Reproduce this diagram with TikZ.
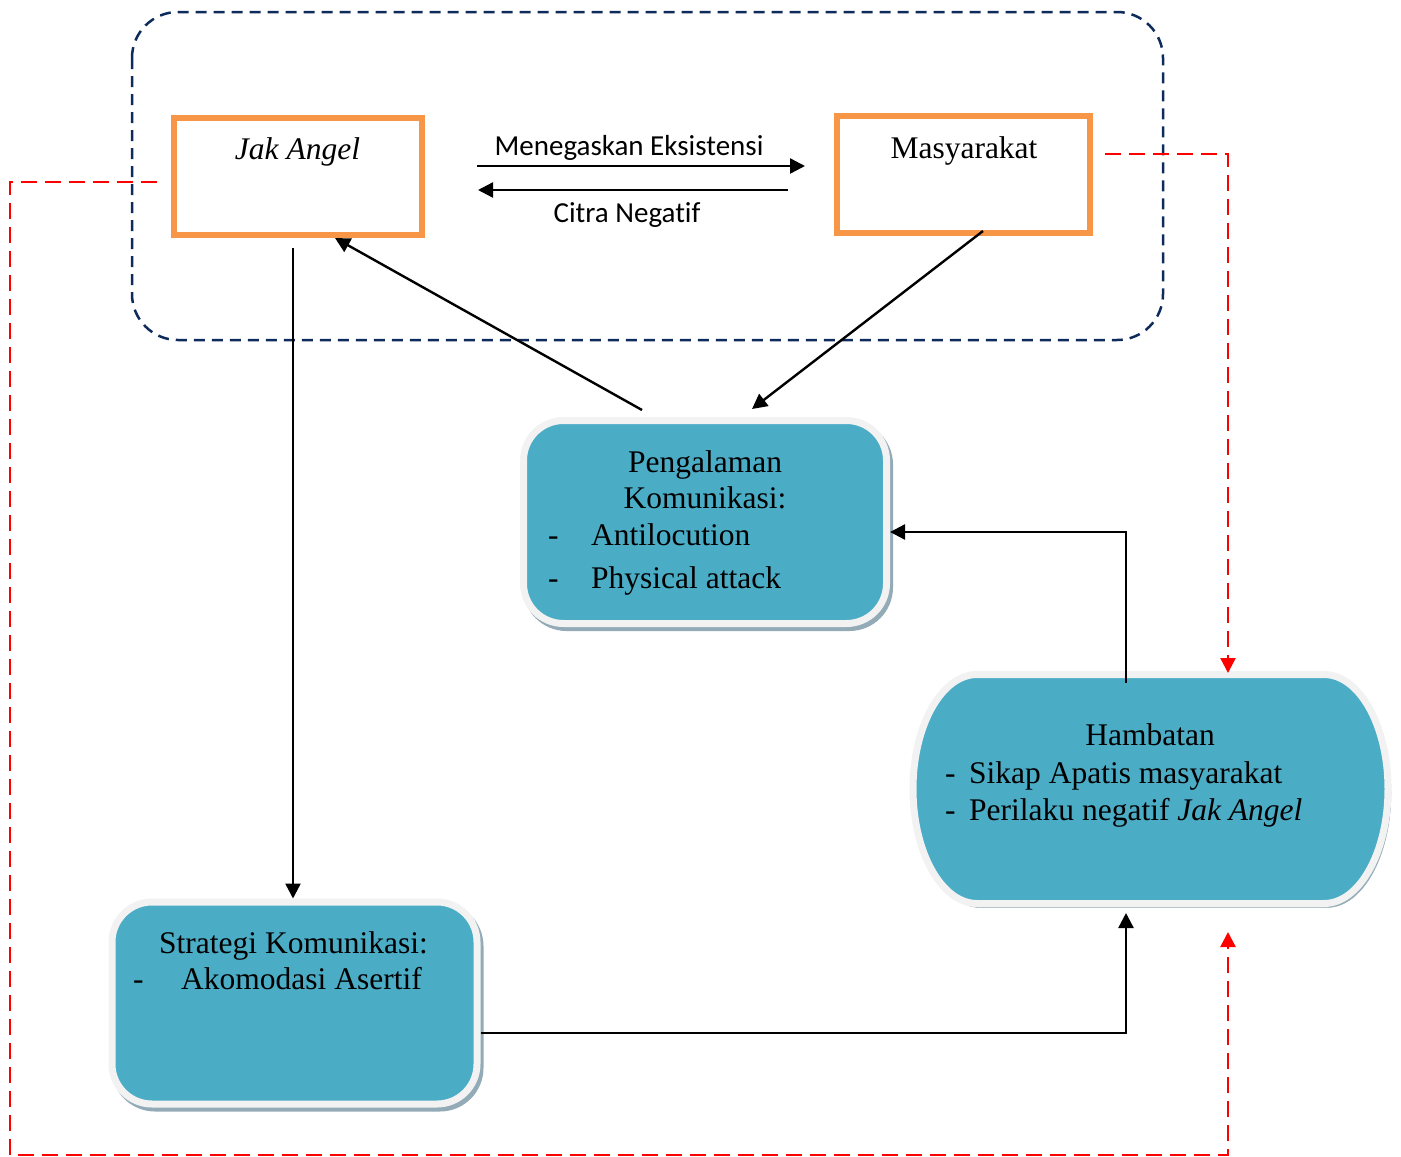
\documentclass[tikz,border=0pt]{standalone}
\usepackage{fontspec}
\setmainfont{Liberation Serif}
\newfontfamily\calib[Ligatures=CommonOff]{Carlito}
\usetikzlibrary{arrows.meta}
\definecolor{navy}{HTML}{0F2B5B}
\definecolor{orng}{HTML}{F79646}
\definecolor{tealc}{HTML}{4BACC6}
\definecolor{frameg}{HTML}{F2F2F2}
\definecolor{shad}{HTML}{93ABB7}
\definecolor{redd}{HTML}{FF0000}
\begin{document}
\begin{tikzpicture}[x=1pt,y=-1pt,
  orangebox/.style={draw=orng,line width=6pt,fill=white},
  tealfill/.style={draw=frameg,fill=tealc,line width=7pt,
    preaction={fill=shad,draw=shad,transform canvas={xshift=3pt,yshift=-4pt}}},
  tealbox/.style={tealfill,rounded corners=40pt},
  serif/.style={font=\fontsize{31.5}{37}\selectfont,inner sep=0pt},
  sans/.style={font=\calib\fontsize{29}{34}\selectfont,inner sep=0pt},
  conn/.style={line width=2.4pt,-{Triangle[length=15pt,width=15pt]}},
  reddash/.style={draw=redd,line width=2.3pt,dash pattern=on 16pt off 8pt,
    -{Triangle[length=15pt,width=15pt]}},
  outline/.style={draw=navy,line width=2.5pt,dash pattern=on 11pt off 7pt,rounded corners=46pt}
]
\useasboundingbox (0,0) rectangle (1401,1157);
% grouping outline
\draw[outline] (132,12) rectangle (1163,340);

% boxes
\node[orangebox,minimum width=248pt,minimum height=117pt] (jak) at (298,176.5) {};
\node[orangebox,minimum width=253pt,minimum height=117pt] (mas) at (963.5,174.5) {};
\node[tealbox,minimum width=363pt,minimum height=203pt] (peng) at (705,522) {};
\node[tealbox,minimum width=365pt,minimum height=202pt] (strat) at (294.5,1003) {};
\path[tealfill] (977,674.5) -- (1324,674.5)
   arc[start angle=90,end angle=-90,x radius=64pt,y radius=114.5pt]
   -- (977,903.5)
   arc[start angle=270,end angle=90,x radius=64pt,y radius=114.5pt] -- cycle;
\node[draw=none,minimum width=482pt,minimum height=236pt,outer sep=0pt] (ham) at (1151,788.5) {};

% texts
\node[serif,anchor=base] (tjak) at (297.5,159) {\textit{Jak Angel}};
\node[serif,anchor=base] (tmas) at (964,158) {Masyarakat};
\node[sans,anchor=base] (tme) at (629,155) {Menegaskan Eksistensi};
\node[sans,anchor=base] (tci) at (627,222) {Citra Negatif};

\node[serif,anchor=base] (tp1) at (705,472) {Pengalaman};
\node[serif,anchor=base] (tp2) at (705,508) {Komunikasi:};
\node[serif,anchor=base west] (tp3) at (548,545) {-};
\node[serif,anchor=base west] (tp4) at (591,545) {Antilocution};
\node[serif,anchor=base west] (tp5) at (548,588) {-};
\node[serif,anchor=base west] (tp6) at (591,588) {Physical attack};

\node[serif,anchor=base] (th1) at (1150,745) {Hambatan};
\node[serif,anchor=base west] (th2) at (945,783) {-};
\node[serif,anchor=base west] (th3) at (969,783) {Sikap Apatis masyarakat};
\node[serif,anchor=base west] (th4) at (945,820) {-};
\node[serif,anchor=base west] (th5) at (969,820) {Perilaku negatif \textit{Jak Angel}};

\node[serif,anchor=base west] (ts1) at (159,953) {Strategi Komunikasi:};
\node[serif,anchor=base west] (ts2) at (133,989) {-};
\node[serif,anchor=base west] (ts3) at (181,989) {Akomodasi Asertif};

% connectors
\draw[conn] ([xshift=52pt,yshift=10.5pt]jak.east) -- ([xshift=-29pt,yshift=8.5pt]mas.west);
\draw[conn] ([xshift=-46pt,yshift=-15.5pt]mas.west) -- ([xshift=53pt,yshift=-13.5pt]jak.east);
\draw[conn] ([xshift=-5pt,yshift=-10pt]jak.south) -- ([xshift=-1.5pt]strat.north);
\draw[conn] ([xshift=-63pt,yshift=7pt]peng.north) -- ([xshift=37pt]jak.south);
\draw[conn] ([xshift=19.5pt,yshift=5pt]mas.south) -- ([xshift=47pt,yshift=8pt]peng.north);
\draw[conn] ([xshift=-25pt,yshift=-12.5pt]ham.north) |- ([yshift=-10pt]peng.east);
\draw[conn] ([yshift=-30pt]strat.east) -| ([xshift=-25pt,yshift=-6.5pt]ham.south);

% red dashed feedback lines
\coordinate (cL1) at (10,182);
\coordinate (cL2) at (10,1155);
\coordinate (cL3) at (1228,1155);
\draw[reddash] ([xshift=-14pt,yshift=-5.5pt]jak.west) -- (cL1) -- (cL2) -- (cL3)
   -- ([xshift=77pt,yshift=-25.5pt]ham.south);
\draw[reddash] ([xshift=12pt,yshift=20.5pt]mas.east) -| ([xshift=77pt,yshift=-2.5pt]ham.north);
\end{tikzpicture}
\end{document}
